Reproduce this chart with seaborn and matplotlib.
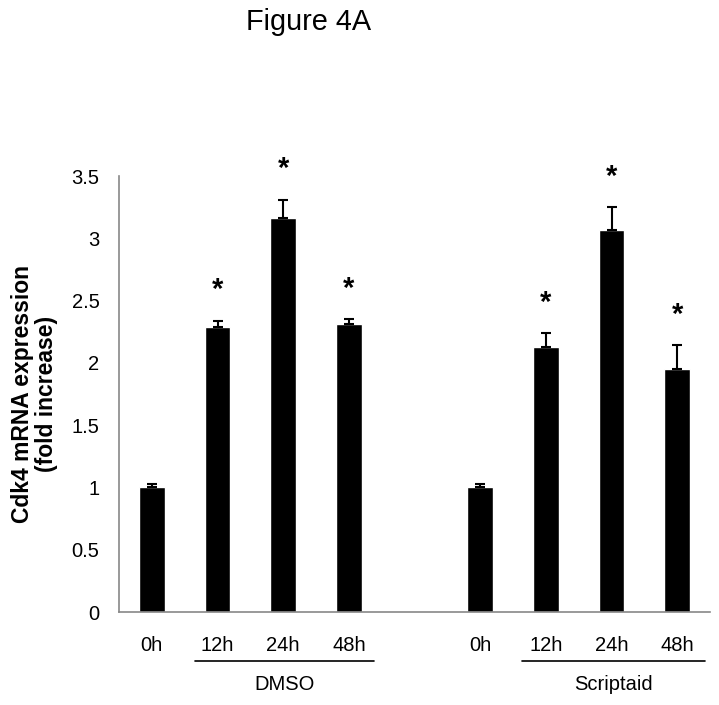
import matplotlib
matplotlib.use("Agg")
import matplotlib.pyplot as plt
import seaborn as sns
import pandas as pd
import numpy as np
from matplotlib.ticker import FuncFormatter

# ---- data ----
categories = ["D_0h", "D_12h", "D_24h", "D_48h", "gap", "S_0h", "S_12h", "S_24h", "S_48h"]
tick_labels = ["0h", "12h", "24h", "48h", "", "0h", "12h", "24h", "48h"]
bar_cats = ["D_0h", "D_12h", "D_24h", "D_48h", "S_0h", "S_12h", "S_24h", "S_48h"]
means = [1.00, 2.29, 3.16, 2.31, 1.00, 2.13, 3.07, 1.95]
errors = [0.03, 0.05, 0.15, 0.04, 0.03, 0.11, 0.18, 0.19]
significant = [False, True, True, True, False, True, True, True]
groups = ["DMSO", "Scriptaid"]
yticks = [0, 0.5, 1, 1.5, 2, 2.5, 3, 3.5]

sns.set_theme(style="white")
plt.rcParams['font.family'] = ['Liberation Sans', 'DejaVu Sans']
plt.rcParams['text.color'] = 'black'
plt.rcParams['axes.labelcolor'] = 'black'

df = pd.DataFrame({"cat": bar_cats, "val": means})

fig = plt.figure(figsize=(7.19, 7.05), dpi=100)
ax = fig.add_axes([119/719, 1 - 612/705, (710-119)/719, (612-176)/705])

sns.barplot(data=df, x="cat", y="val", order=categories, color="black",
            saturation=1, width=0.39, errorbar=None, ax=ax)

pos = [categories.index(c) for c in bar_cats]
ax.errorbar(pos, means, yerr=[np.zeros(len(errors)), errors], fmt="none",
            ecolor="black", elinewidth=1.5, capsize=3.6, capthick=1.5)

for p, m, e, s in zip(pos, means, errors, significant):
    if s:
        ax.text(p, m + e + 0.245, "*", ha="center", va="center",
                fontsize=21, fontweight="bold", color="black")

ax.set_ylim(0, 3.5)
ax.set_xlim(-0.5, len(categories) - 0.5)
ax.set_yticks(yticks)
ax.yaxis.set_major_formatter(FuncFormatter(lambda v, p: f"{v:g}"))

# ticks at slot boundaries, labels at centers
ax.set_xticks(np.arange(-0.5, len(categories) + 0.5, 1.0))
ax.set_xticklabels([])
ax.set_xticks(np.arange(len(categories)), minor=True)
ax.set_xticklabels(tick_labels, minor=True)
ax.tick_params(axis="x", which="minor", length=0, pad=17, labelsize=14.5,
               labelcolor="black")
ax.tick_params(axis="x", which="major", length=6, width=1, color="#888888", direction="out")
ax.tick_params(axis="y", length=6, width=1, color="#888888", direction="out",
               labelsize=14.5, pad=8, labelcolor="black")
ax.set_xlabel("")

sns.despine(ax=ax)
for sp in ["left", "bottom"]:
    ax.spines[sp].set_color("#888888")
    ax.spines[sp].set_linewidth(1.2)

ax.set_ylabel("Cdk4 mRNA expression\n(fold increase)", fontsize=16.5,
              fontweight="bold", labelpad=10, linespacing=1.05, color="black")

# group underlines and labels
trans = ax.get_xaxis_transform()
group_spans = [(0.65, 3.38), (5.64, 8.42)]
for (x0, x1), g in zip(group_spans, groups):
    ax.plot([x0, x1], [-0.113, -0.113], transform=trans, color="black",
            lw=1.2, clip_on=False)
    ax.text((x0 + x1) / 2, -0.166, g, transform=trans, ha="center",
            va="center", fontsize=14.5, color="black")

fig.text(309/719, 1 - 22/705, "Figure 4A", ha="center", va="center",
         fontsize=20.8, color="black")

fig.savefig("out.png", dpi=100)
